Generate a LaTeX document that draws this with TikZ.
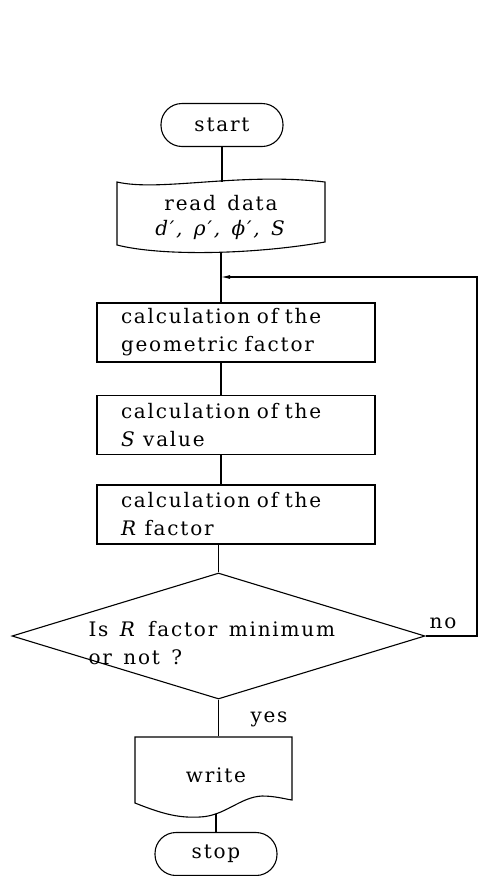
\documentclass[tikz,border=0pt]{standalone}
\usepackage{fontspec}
\setmainfont{DejaVu Serif}[LetterSpace=9,WordSpace=1.4]
\usetikzlibrary{shapes.geometric,arrows.meta}
\begin{document}
\begin{tikzpicture}[x=1pt,y=-1pt,line width=1.1pt,
  every node/.style={font=\fontsize{20}{28}\selectfont},
  term/.style={draw,rounded corners=21pt,minimum width=122pt,minimum height=43pt,inner sep=0pt},
  proc/.style={draw,text width=230pt,align=left,inner xsep=24pt,inner ysep=0pt,minimum height=59pt},
  shapebox/.style={inner sep=0pt,align=center},
  lbl/.style={inner sep=0pt}]
\useasboundingbox (0,0) rectangle (478,876);

% start
\node[term] (start) at (222,125) {start};

% read data (punched tape)
\node[shapebox,minimum width=208pt,minimum height=70pt] (read) at (221,217.5) {read data\\[-3pt]\textit{d′, ρ′, ϕ′, S}};
\draw (117,182) .. controls (160,192) and (240,172) .. (325,182)
  -- (325,242) .. controls (250,255) and (160,256) .. (117,245) -- cycle;

% process boxes
\node[proc] (b1) at (236,332.5) {calculation of the\\geometric factor};
\node[proc] (b2) at (236,425) {calculation of the\\\textit{S} value};
\node[proc] (b3) at (236,514.5) {calculation of the\\\textit{R} factor};

% decision
\node[draw,diamond,minimum width=413pt,minimum height=126pt,inner sep=0pt] (dec) at (218.5,636) {};
\node[lbl,anchor=west,align=left] (dq) at (88,643) {Is \textit{R} factor minimum\\or not ?};

% write (document)
\node[shapebox,minimum width=150pt,minimum height=76pt] (write) at (216,775) {write};
\draw (135,803) -- (135,737) -- (292,737) -- (292,800)
  .. controls (285,799) and (275,796) .. (262,796)
  .. controls (240,797) and (225,816) .. (200,817)
  .. controls (180,818) and (165,815) .. (135,803) -- cycle;

% stop
\node[term] (stop) at (216,854) {stop};

% labels
\node[lbl] (no) at (443,623) {no};
\node[lbl] (yes) at (269,719) {yes};

% connectors
\coordinate (merge) at (221,277);
\coordinate (fb) at (477,277);
\draw (start.south) -- (start.south |- read.north);
\draw (read.south -| merge) -- (merge |- b1.north);
\draw (merge |- b1.south) -- (merge |- b2.north);
\draw (merge |- b2.south) -- (merge |- b3.north);
\draw (dec.north |- b3.south) -- (dec.north);
\draw (dec.south) -- (dec.south |- write.north);
\draw (write.south) -- (write.south |- stop.north);
\draw[-{Latex[length=9pt,width=4pt]}] (dec.east) -| (fb) -- (merge);
\end{tikzpicture}
\end{document}
